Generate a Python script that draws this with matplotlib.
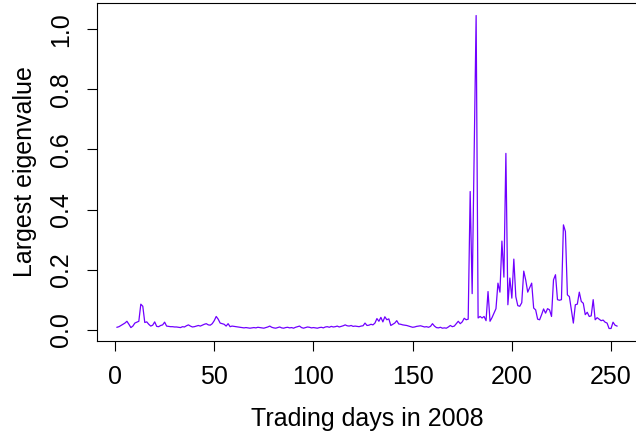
import numpy as np
import matplotlib
matplotlib.use("Agg")
import matplotlib.pyplot as plt

plt.rcParams['font.family'] = ['Liberation Sans', 'DejaVu Sans']

# largest eigenvalue per trading day
eig_jan_mar = [0.008, 0.010, 0.014, 0.018, 0.022, 0.028, 0.018, 0.007, 0.012, 0.022,
               0.025, 0.028, 0.085, 0.078, 0.024, 0.026, 0.018, 0.012, 0.015, 0.026,
               0.011, 0.010, 0.014, 0.016, 0.025, 0.012, 0.011, 0.010, 0.010, 0.009,
               0.009, 0.008, 0.007, 0.010, 0.009, 0.013, 0.016, 0.012, 0.009, 0.010,
               0.012, 0.014, 0.012, 0.015, 0.018, 0.020, 0.016, 0.015, 0.020, 0.030,
               0.044, 0.035, 0.022, 0.020, 0.018, 0.012, 0.020, 0.010, 0.012, 0.011]
eig_apr_jun = [0.010, 0.009, 0.008, 0.007, 0.006, 0.007, 0.006, 0.005, 0.006, 0.007,
               0.006, 0.008, 0.007, 0.006, 0.005, 0.007, 0.009, 0.012, 0.008, 0.006,
               0.005, 0.007, 0.009, 0.006, 0.005, 0.007, 0.008, 0.006, 0.007, 0.005,
               0.008, 0.010, 0.012, 0.007, 0.005, 0.007, 0.009, 0.008, 0.006, 0.007,
               0.006, 0.005, 0.007, 0.008, 0.006, 0.009, 0.010, 0.008, 0.011, 0.009,
               0.010, 0.012, 0.009, 0.011, 0.013, 0.016, 0.013, 0.012, 0.014, 0.011]
eig_jul_sep = [0.012, 0.011, 0.010, 0.012, 0.013, 0.022, 0.014, 0.015, 0.018, 0.016,
               0.022, 0.037, 0.028, 0.041, 0.026, 0.043, 0.033, 0.036, 0.014, 0.018,
               0.022, 0.030, 0.019, 0.018, 0.016, 0.015, 0.014, 0.012, 0.010, 0.008,
               0.009, 0.011, 0.012, 0.013, 0.011, 0.009, 0.010, 0.008, 0.011, 0.020,
               0.012, 0.007, 0.006, 0.008, 0.005, 0.006, 0.005, 0.009, 0.014, 0.010,
               0.012, 0.020, 0.028, 0.020, 0.026, 0.038, 0.033, 0.035, 0.460, 0.120]
eig_oct_dec = [0.580, 1.046, 0.039, 0.044, 0.039, 0.044, 0.030, 0.127, 0.028, 0.040,
               0.055, 0.070, 0.155, 0.125, 0.295, 0.175, 0.587, 0.083, 0.172, 0.105,
               0.235, 0.110, 0.080, 0.078, 0.090, 0.195, 0.165, 0.125, 0.140, 0.155,
               0.072, 0.066, 0.035, 0.033, 0.050, 0.069, 0.055, 0.070, 0.066, 0.044,
               0.166, 0.183, 0.100, 0.098, 0.100, 0.349, 0.327, 0.116, 0.110, 0.066,
               0.022, 0.083, 0.085, 0.125, 0.094, 0.088, 0.050, 0.058, 0.044, 0.046,
               0.100, 0.033, 0.040, 0.035, 0.030, 0.032, 0.025, 0.022, 0.004, 0.004,
               0.025, 0.015, 0.012]

eig = np.array(eig_jan_mar + eig_apr_jun + eig_jul_sep + eig_oct_dec)
days = np.arange(1, len(eig) + 1)

xticks = [0, 50, 100, 150, 200, 250]
yticks = [0.0, 0.2, 0.4, 0.6, 0.8, 1.0]

fig = plt.figure(figsize=(6.36, 4.33), dpi=100)
ax = fig.add_axes([97 / 636, 92 / 433, 540 / 636, 338 / 433])

ax.plot(days, eig, color='#7000FF', linewidth=0.9)

# R style 4% padding
xr = days.max() - days.min()
ax.set_xlim(days.min() - 0.04 * xr, days.max() + 0.04 * xr)
yr = eig.max() - eig.min()
ax.set_ylim(eig.min() - 0.04 * yr, eig.max() + 0.04 * yr)

ax.set_xticks(xticks)
ax.set_xticklabels([str(t) for t in xticks])
ax.set_yticks(yticks)
ax.set_yticklabels(['%.1f' % t for t in yticks], rotation=90, va='center')
ax.tick_params(direction='out', length=7, width=0.8, labelsize=18, pad=10)

for s in ax.spines.values():
    s.set_linewidth(0.8)

ax.set_xlabel('Trading days in 2008', fontsize=18, labelpad=13)
ax.set_ylabel('Largest eigenvalue', fontsize=18, labelpad=9)

fig.savefig('out.png', dpi=100)
